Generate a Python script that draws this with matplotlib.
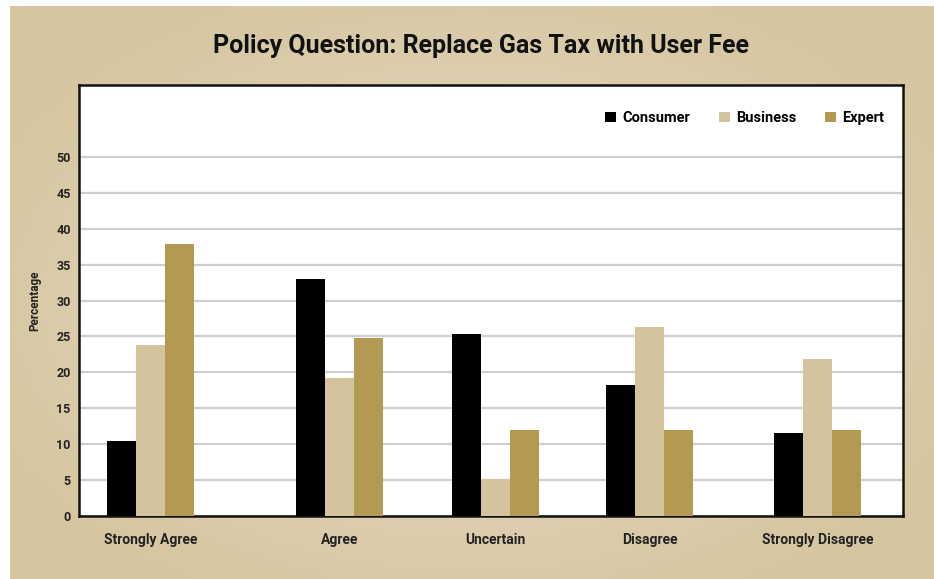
import numpy as np
import matplotlib.pyplot as plt

plt.rcParams['font.family'] = ['Roboto', 'DejaVu Sans']

# Daten
categories = ['Strongly Agree', 'Agree', 'Uncertain', 'Disagree', 'Strongly Disagree']
consumer = [10.5, 33, 25.3, 18.3, 11.5]
business = [23.8, 19.2, 5.1, 26.3, 21.9]
expert = [37.9, 24.8, 12, 12, 12]
series_names = ['Consumer', 'Business', 'Expert']
colors = ['#000000', '#d3c49d', '#b39952']

# group centres (reference spacing is a bit uneven)
x_pos = np.array([0, 1.22, 2.225, 3.22, 4.30])
w = 0.187

fig = plt.figure(figsize=(9.34, 5.79), dpi=100)
fig.patch.set_facecolor('white')

# beige radial background panel
bg = fig.add_axes([0, 0, 1, 1])
bg.set_xlim(0, 934)
bg.set_ylim(579, 0)
bg.axis('off')
gx, gy = np.meshgrid(np.linspace(10, 934, 300), np.linspace(6, 579, 200))
r = np.sqrt(((gx - 470) / 520) ** 2 + ((gy - 300) / 330) ** 2)
r = np.clip(r, 0, 1)
c_in = np.array([232, 223, 203]) / 255
c_out = np.array([214, 198, 161]) / 255
img = c_in[None, None, :] * (1 - r[..., None]) + c_out[None, None, :] * r[..., None]
bg.imshow(img, extent=[10, 934, 579, 6], aspect='auto', zorder=0)

fig.text(0.5155, 0.921, 'Policy Question: Replace Gas Tax with User Fee',
         ha='center', va='center', fontsize=18, fontweight='bold', color='#111111')

ax = fig.add_axes([79 / 934, 1 - 516 / 579, (903 - 79) / 934, (516 - 85) / 579])
ax.set_facecolor('white')

for i, (vals, name) in enumerate(zip([consumer, business, expert], series_names)):
    ax.bar(x_pos + (i - 1) * w, vals, width=w, color=colors[i], label=name, zorder=3)

ax.set_ylim(0, 60)
ax.set_xlim(-0.463, 4.853)
ax.set_yticks(np.arange(0, 51, 5))
ax.set_xticks(x_pos)
ax.set_xticklabels(categories)
ax.yaxis.grid(True, color='#cfcfcf', linewidth=1.6, zorder=0)
ax.tick_params(length=0, labelsize=9, colors='#222222', pad=6)
ax.tick_params(axis='x', labelsize=10, pad=12)
for lbl in ax.get_xticklabels() + ax.get_yticklabels():
    lbl.set_fontweight('bold')
for s in ax.spines.values():
    s.set_linewidth(1.8)
    s.set_color('#111111')

ax.set_ylabel('Percentage', fontsize=8.5, fontweight='bold', color='#222222', labelpad=11)

ax.legend(loc='upper right', bbox_to_anchor=(0.993, 0.97), ncol=3, frameon=False,
          prop={'weight': 'bold', 'size': 10.5}, handlelength=0.75, handleheight=0.75,
          handletextpad=0.4, columnspacing=2.0)

fig.savefig('out.png', dpi=100)
